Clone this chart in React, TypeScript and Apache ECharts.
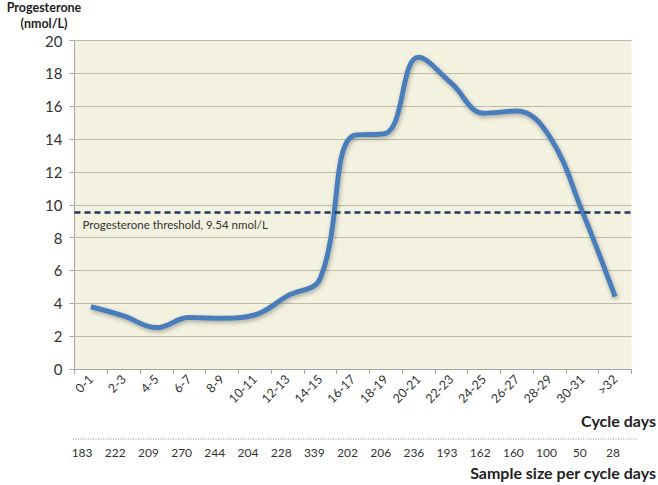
import React, { useEffect, useRef } from "react";
import * as echarts from "echarts";

const cycleDays = ["0-1", "2-3", "4-5", "6-7", "8-9", "10-11", "12-13", "14-15", "16-17", "18-19", "20-21", "22-23", "24-25", "26-27", "28-29", "30-31", ">32"];
const progesterone = [3.79, 3.23, 2.52, 3.13, 3.09, 3.29, 4.45, 5.52, 14.2, 14.35, 18.98, 17.4, 15.57, 15.71, 14.15, 9.58, 4.4];
const sampleSizes = ["183", "222", "209", "270", "244", "204", "228", "339", "202", "206", "236", "193", "162", "160", "100", "50", "28"];
const threshold = 9.54;
const yTicks = { min: 0, max: 20, interval: 2 };

const FONT = "Lato, 'Open Sans', sans-serif";

export default function App() {
  const ref = useRef<HTMLDivElement>(null);
  useEffect(() => {
    if (!ref.current) return;
    const chart = echarts.init(ref.current, null, { renderer: "svg" });
    chart.setOption({
      animation: false,
      textStyle: { fontFamily: FONT },
      grid: [
        { left: 74.5, right: 26.5, top: 40.5, bottom: 116, show: true, backgroundColor: "#f3f1df", borderWidth: 0 },
        { left: 65.5, right: 28.5, top: 40.5, bottom: 116, show: false },
      ],
      xAxis: [
        {
          type: "category",
          gridIndex: 0,
          data: cycleDays,
          boundaryGap: true,
          axisLine: { lineStyle: { color: "#a6a6a6", width: 1 } },
          axisTick: { show: true, length: 5, lineStyle: { color: "#a6a6a6" } },
          axisLabel: { rotate: 45, margin: 8, fontSize: 12.5, color: "#333", fontFamily: FONT, interval: 0 },
        },
        {
          type: "category",
          gridIndex: 1,
          data: sampleSizes,
          boundaryGap: true,
          position: "bottom",
          offset: 70,
          axisLine: { show: false },
          axisTick: { show: false },
          axisLabel: { margin: 7, fontSize: 12, color: "#333", fontFamily: FONT, interval: 0 },
        },
      ],
      yAxis: [
        {
          type: "value",
          gridIndex: 0,
          min: yTicks.min,
          max: yTicks.max,
          interval: yTicks.interval,
          axisLine: { show: true, lineStyle: { color: "#a6a6a6" } },
          axisTick: { show: true, length: 5, lineStyle: { color: "#a6a6a6" } },
          axisLabel: { margin: 12, fontSize: 15, color: "#333", fontFamily: FONT },
          splitLine: { show: true, lineStyle: { color: "#bdbbab", width: 1 } },
        },
        { type: "value", gridIndex: 1, show: false, min: 0, max: 20 },
      ],
      series: [
        {
          type: "line",
          xAxisIndex: 0,
          yAxisIndex: 0,
          data: progesterone,
          smooth: 0.4,
          symbol: "none",
          lineStyle: {
            color: "#4a7ebb",
            width: 5,
            shadowColor: "rgba(0,0,0,0.3)",
            shadowBlur: 4,
            shadowOffsetY: 2,
            shadowOffsetX: 1,
          },
          markLine: {
            silent: true,
            symbol: ["none", "none"],
            lineStyle: { color: "#1f3a60", type: [6, 4], width: 2.5 },
            label: {
              show: true,
              position: "insideStartBottom",
              formatter: "Progesterone threshold, 9.54 nmol/L",
              fontSize: 11.5,
              color: "#333",
              fontFamily: FONT,
              distance: [8, 6],
            },
            data: [{ yAxis: threshold }],
          },
        },
      ],
      graphic: [
        {
          type: "text",
          x: 44,
          y: 15.5,
          style: {
            text: "Progesterone\n(nmol/L)",
            textAlign: "center",
            textVerticalAlign: "middle",
            font: `bold 12.5px ${FONT}`,
            lineHeight: 15.5,
            fill: "#222",
          },
        },
        {
          type: "text",
          x: 656,
          y: 420,
          style: {
            text: "Cycle days",
            textAlign: "right",
            textVerticalAlign: "middle",
            font: `bold 16px ${FONT}`,
            fill: "#222",
          },
        },
        {
          type: "line",
          shape: { x1: 73, y1: 439, x2: 638, y2: 439 },
          style: { stroke: "#8c8c8c", lineWidth: 1, lineDash: [1, 1.5] },
        },
        {
          type: "text",
          x: 656,
          y: 472,
          style: {
            text: "Sample size per cycle days",
            textAlign: "right",
            textVerticalAlign: "middle",
            font: `bold 16px ${FONT}`,
            fill: "#222",
          },
        },
      ],
    });
    return () => chart.dispose();
  }, []);
  return (
    <div
      ref={ref}
      style={{ position: "fixed", left: 0, top: 0, width: 658, height: 485, background: "#fff" }}
    />
  );
}
